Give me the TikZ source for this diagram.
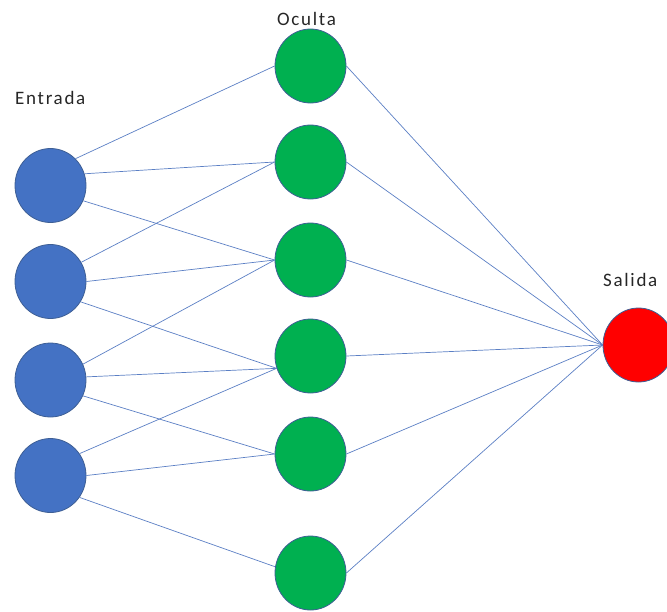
\documentclass[tikz,border=0pt]{standalone}
\usepackage{fontspec}
\setmainfont{Carlito}[LetterSpace=9]
\usetikzlibrary{shapes.geometric}
\definecolor{entrada}{HTML}{4472C4}
\definecolor{oculta} {HTML}{00B050}
\definecolor{salida} {HTML}{FF0000}
\definecolor{borde}  {HTML}{3E5F95}
\definecolor{enlace} {HTML}{5B7FC4}

\begin{document}
\begin{tikzpicture}[x=1pt, y=-1pt,
    neurona/.style={ellipse, draw=borde, line width=0.8pt,
      minimum width=71pt, minimum height=74pt, inner sep=0pt},
    conexion/.style={draw=enlace, line width=0.7pt},
    etiqueta/.style={anchor=base west, inner sep=0pt,
      font=\fontsize{19}{22}\selectfont, text=black!85}]
  \useasboundingbox (0,0) rectangle (667,611);
  % capas
  \foreach \y [count=\i] in {185.5, 281.5, 380, 475.5}
    \node[neurona, fill=entrada] (in\i) at (50.5,\y) {};
  \foreach \y [count=\i] in {66, 162, 260, 356, 454, 573}
    \node[neurona, fill=oculta] (hid\i) at (310.5,\y) {};
  \node[neurona, fill=salida] (out) at (638.5,345) {};
  % etiquetas
  \node[etiqueta] (lblin)  at (15,104)  {Entrada};
  \node[etiqueta] (lblhid) at (277,25)  {Oculta};
  \node[etiqueta] (lblout) at (603,286) {Salida};
  % conexiones
  \foreach \i/\desde/\j/\hasta in {1/47/1/180, 1/19/2/180, 1/-25/3/180,
      2/32/2/180, 2/0/3/180, 2/-34/4/200,
      3/26/3/180, 3/5/4/200, 3/-26/5/180,
      4/37/4/200, 4/0/5/180, 4/-37/6/170}
    \draw[conexion] (in\i.\desde) -- (hid\j.\hasta);
  \foreach \j in {1,...,6}
    \draw[conexion] (hid\j.east) -- (out.west);
\end{tikzpicture}
\end{document}
